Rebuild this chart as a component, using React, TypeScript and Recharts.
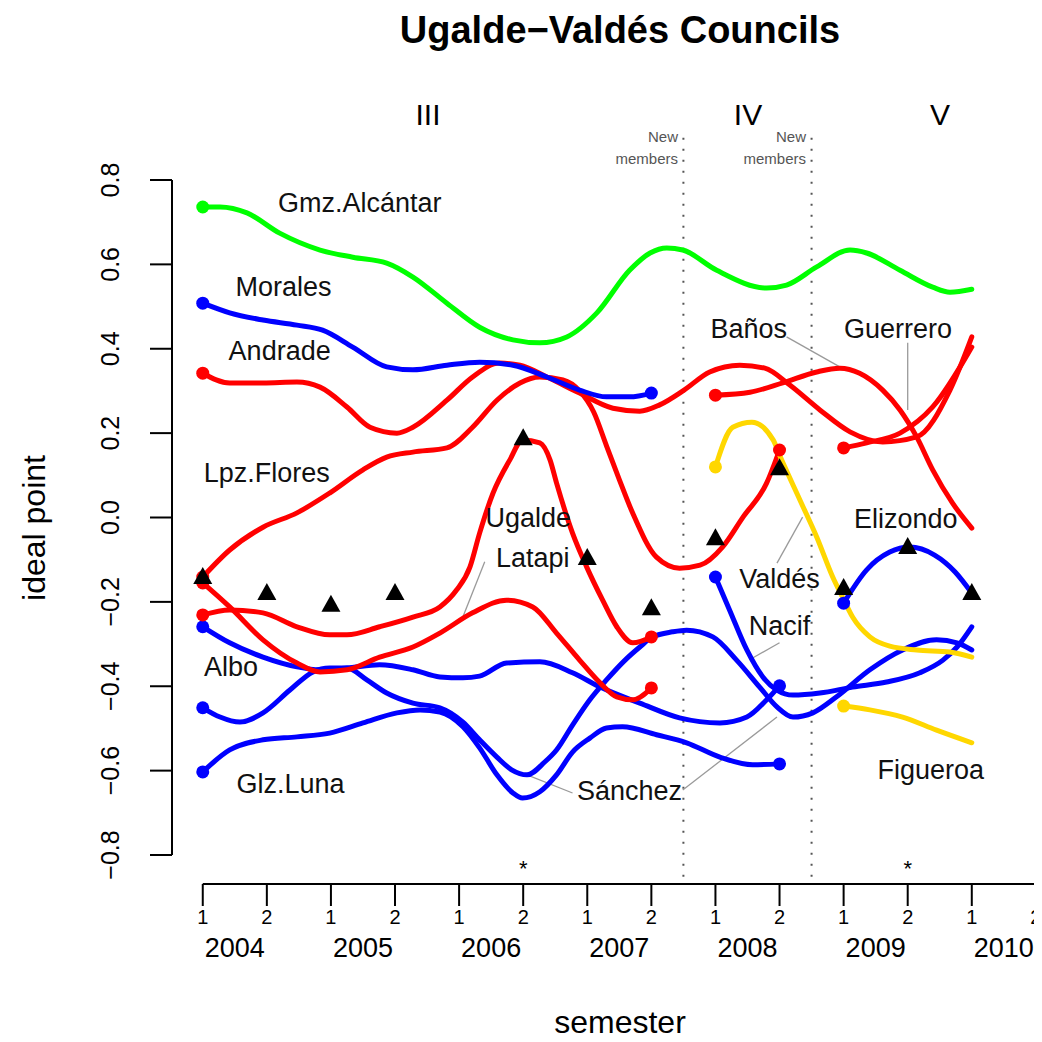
import React from 'react';
import { ComposedChart, Line, XAxis, YAxis, ReferenceLine, Scatter } from 'recharts';

type P = [number, number];

const RED = '#FF0000';
const BLUE = '#0000FF';
const GREEN = '#00FF00';
const GOLD = '#FFD700';
const FONT = '"Liberation Sans", Arial, Helvetica, sans-serif';

// x = semester index (0 = 2004-1, 1 = 2004-2, ... 13 = 2010-2), y = ideal point
const gmzAlcantar: P[] = [[0,0.736],[0.27,0.736],[0.69,0.722],[1.2,0.674],[1.83,0.634],[2.34,0.617],[2.87,0.603],[3.28,0.57],[3.81,0.508],[4.32,0.451],[4.84,0.421],[5.26,0.414],[5.68,0.428],[6.15,0.485],[6.66,0.586],[6.98,0.627],[7.24,0.639],[7.49,0.634],[8.02,0.586],[8.8,0.544],[9.11,0.551],[9.58,0.594],[10.1,0.634],[10.36,0.627],[10.88,0.586],[11.39,0.546],[11.66,0.534],[12,0.541]];
const morales: P[] = [[0,0.508],[0.42,0.485],[0.94,0.468],[1.47,0.456],[1.87,0.444],[2.34,0.404],[2.87,0.357],[3.28,0.35],[3.81,0.361],[4.32,0.368],[4.84,0.361],[5.37,0.333],[5.88,0.302],[6.3,0.286],[6.66,0.286],[7,0.295]];
const andrade: P[] = [[0,0.342],[0.42,0.319],[0.94,0.319],[1.47,0.321],[1.83,0.309],[2.25,0.262],[2.61,0.214],[3.03,0.2],[3.28,0.214],[3.81,0.278],[4.21,0.333],[4.63,0.366],[4.95,0.361],[5.37,0.333],[5.88,0.295],[6.4,0.259],[6.82,0.252],[7.13,0.267],[7.51,0.302],[7.91,0.345],[8.38,0.361],[8.77,0.354],[9.16,0.314],[9.63,0.255],[10.1,0.203],[10.61,0.179],[11.14,0.191],[11.66,0.302],[12,0.428]];
const lpzFlores: P[] = [[0,-0.141],[0.42,-0.077],[0.94,-0.023],[1.47,0.011],[1.98,0.058],[2.5,0.113],[2.87,0.143],[3.28,0.155],[3.81,0.165],[4.21,0.214],[4.59,0.278],[4.95,0.319],[5.26,0.333],[5.62,0.326],[5.88,0.3],[6.1,0.25],[6.3,0.17],[6.5,0.09],[6.71,0.01],[7.08,-0.094],[7.44,-0.12],[7.76,-0.113],[8.11,-0.07],[8.43,0.001],[8.8,0.082],[9,0.16]];
const ugalde: P[] = [[0,-0.231],[0.42,-0.219],[0.94,-0.226],[1.47,-0.259],[1.98,-0.278],[2.25,-0.278],[2.76,-0.259],[3.28,-0.236],[3.7,-0.212],[3.96,-0.172],[4.17,-0.117],[4.32,-0.037],[4.53,0.058],[4.79,0.136],[4.99,0.184],[5.26,0.177],[5.42,0.136],[5.52,0.082],[5.77,-0.037],[5.99,-0.117],[6.24,-0.196],[6.46,-0.259],[6.71,-0.297],[7,-0.283]];
const latapi: P[] = [[0,-0.155],[0.42,-0.212],[0.94,-0.29],[1.47,-0.345],[1.83,-0.366],[2.25,-0.361],[2.76,-0.331],[3.28,-0.307],[3.7,-0.274],[4.21,-0.226],[4.74,-0.196],[5.15,-0.212],[5.52,-0.274],[5.88,-0.338],[6.2,-0.392],[6.46,-0.425],[6.71,-0.432],[7,-0.404]];
const albo: P[] = [[0,-0.259],[0.42,-0.297],[0.94,-0.331],[1.47,-0.354],[1.83,-0.361],[2.25,-0.357],[2.76,-0.349],[3.28,-0.361],[3.7,-0.378],[4.06,-0.38],[4.32,-0.376],[4.74,-0.345],[5.26,-0.342],[5.77,-0.368],[6.2,-0.402],[6.82,-0.44],[7.44,-0.475],[8.07,-0.487],[8.49,-0.473],[8.8,-0.432],[9,-0.399]];
const sanchez: P[] = [[0,-0.451],[0.27,-0.473],[0.58,-0.485],[0.94,-0.463],[1.36,-0.409],[1.72,-0.366],[1.98,-0.357],[2.25,-0.357],[2.56,-0.385],[2.87,-0.416],[3.28,-0.44],[3.7,-0.451],[4.06,-0.485],[4.32,-0.527],[4.59,-0.568],[4.82,-0.598],[5.06,-0.61],[5.34,-0.579],[5.52,-0.551],[5.77,-0.492],[6.04,-0.432],[6.3,-0.385],[6.59,-0.338],[6.82,-0.307],[7.02,-0.283],[7.33,-0.271],[7.55,-0.267],[7.96,-0.283],[8.33,-0.338],[8.69,-0.402],[8.96,-0.449],[9.21,-0.473],[9.52,-0.463],[9.89,-0.425],[10.41,-0.361],[10.92,-0.314],[11.45,-0.29],[11.77,-0.297],[12,-0.314]];
const glzLuna: P[] = [[0,-0.603],[0.42,-0.551],[0.94,-0.527],[1.47,-0.52],[1.98,-0.511],[2.5,-0.487],[3.03,-0.463],[3.39,-0.456],[3.7,-0.461],[4.06,-0.496],[4.32,-0.546],[4.59,-0.61],[4.84,-0.653],[4.99,-0.665],[5.26,-0.65],[5.52,-0.61],[5.77,-0.556],[6.04,-0.523],[6.3,-0.499],[6.55,-0.496],[7.08,-0.515],[7.55,-0.534],[8.07,-0.568],[8.58,-0.586],[9,-0.584]];
const banos: P[] = [[8,0.29],[8.54,0.297],[9.05,0.319],[9.58,0.345],[9.94,0.354],[10.25,0.342],[10.61,0.302],[10.88,0.255],[11.14,0.191],[11.39,0.113],[11.7,0.034],[12,-0.025]];
const valdes: P[] = [[8,0.12],[8.27,0.214],[8.57,0.226],[8.9,0.184],[9,0.148],[9.32,0.041],[9.58,-0.046],[9.83,-0.141],[9.99,-0.191],[10.14,-0.236],[10.41,-0.283],[10.72,-0.305],[11.14,-0.314],[11.66,-0.319],[12,-0.331]];
const nacif: P[] = [[8,-0.141],[8.22,-0.219],[8.49,-0.314],[8.74,-0.378],[8.96,-0.409],[9.21,-0.421],[9.63,-0.416],[10.14,-0.402],[10.67,-0.39],[11.19,-0.368],[11.55,-0.338],[11.77,-0.307],[12,-0.259]];
const guerrero: P[] = [[10,0.165],[10.36,0.177],[10.88,0.2],[11.39,0.262],[12,0.404]];
const elizondo: P[] = [[10,-0.203],[10.36,-0.124],[10.72,-0.082],[11.03,-0.07],[11.42,-0.089],[11.74,-0.129],[12,-0.179]];
const figueroa: P[] = [[10,-0.447],[10.41,-0.456],[10.92,-0.473],[11.45,-0.504],[12,-0.534]];

// council president marks (triangles)
const triangleSemesters = [0, 1, 2, 3, 5, 6, 7, 8, 9, 10, 11, 12];
const triangleValues = [-0.141, -0.179, -0.207, -0.179, 0.188, -0.096, -0.215, -0.049, 0.117, -0.167, -0.07, -0.179];

const starSemesters = [5, 11];
const starLevel = -0.822;

const yTicks = [-0.8, -0.6, -0.4, -0.2, 0, 0.2, 0.4, 0.6, 0.8];
const semesterTicks = [0, 1, 2, 3, 4, 5, 6, 7, 8, 9, 10, 11, 12, 13];
const years = [2004, 2005, 2006, 2007, 2008, 2009, 2010];
const periodChanges = [7.5, 9.5];

const members = [
  { name: 'Glz.Luna', color: BLUE, pts: glzLuna },
  { name: 'Sánchez', color: BLUE, pts: sanchez },
  { name: 'Albo', color: BLUE, pts: albo },
  { name: 'Latapi', color: RED, pts: latapi },
  { name: 'Ugalde', color: RED, pts: ugalde },
  { name: 'Lpz.Flores', color: RED, pts: lpzFlores },
  { name: 'Andrade', color: RED, pts: andrade },
  { name: 'Morales', color: BLUE, pts: morales },
  { name: 'Gmz.Alcántar', color: GREEN, pts: gmzAlcantar },
  { name: 'Nacif', color: BLUE, pts: nacif },
  { name: 'Baños', color: RED, pts: banos },
  { name: 'Valdés', color: GOLD, pts: valdes },
  { name: 'Figueroa', color: GOLD, pts: figueroa },
  { name: 'Elizondo', color: BLUE, pts: elizondo },
  { name: 'Guerrero', color: RED, pts: guerrero },
];

// annotation placement (label centres, in data units)
const nameLabels = [
  { text: 'Gmz.Alcántar', x: 2.45, y: 0.748 },
  { text: 'Morales', x: 1.26, y: 0.549 },
  { text: 'Andrade', x: 1.2, y: 0.397 },
  { text: 'Lpz.Flores', x: 1.0, y: 0.108 },
  { text: 'Ugalde', x: 5.08, y: 0.001 },
  { text: 'Latapi', x: 5.15, y: -0.094 },
  { text: 'Albo', x: 0.44, y: -0.352 },
  { text: 'Glz.Luna', x: 1.37, y: -0.629 },
  { text: 'Sánchez', x: 6.66, y: -0.646 },
  { text: 'Baños', x: 8.52, y: 0.449 },
  { text: 'Guerrero', x: 10.85, y: 0.449 },
  { text: 'Elizondo', x: 10.97, y: -0.001 },
  { text: 'Valdés', x: 9.0, y: -0.143 },
  { text: 'Nacif', x: 9.0, y: -0.255 },
  { text: 'Figueroa', x: 11.36, y: -0.596 },
];
const leaders = [
  [4.4, -0.105, 4.04, -0.243],
  [5.77, -0.653, 5.06, -0.61],
  [7.49, -0.646, 8.96, -0.473],
  [9.11, 0.428, 9.94, 0.357],
  [11.0, 0.414, 11.0, 0.255],
  [9.36, 0.001, 8.96, -0.108],
  [9.0, -0.297, 8.58, -0.333],
];

const X_DOMAIN: [number, number] = [-0.48, 13.08];
const Y_DOMAIN: [number, number] = [-0.864, 0.864];

const toRows = (pts: P[]) => pts.map(([x, y]) => ({ x, y }));
const triangles = triangleSemesters.map((x, i) => ({ x, y: triangleValues[i] }));
const stars = starSemesters.map((x) => ({ x, y: starLevel }));
const xTicks = [...semesterTicks, ...years.map((_, i) => i * 2 + 0.5)];

const makeDot = (color: string, lastIndex: number, endsEarly: boolean) => (props: any) => {
  const { cx, cy, index } = props;
  if (index === 0 || (endsEarly && index === lastIndex)) {
    return <circle key={`d${index}`} cx={cx} cy={cy} r={6.5} fill={color} stroke="none" />;
  }
  return <g key={`d${index}`} />;
};

const TriangleShape = (props: any) => {
  const { cx, cy } = props;
  return <polygon points={`${cx},${cy - 10} ${cx - 9.5},${cy + 7} ${cx + 9.5},${cy + 7}`} fill="#000" />;
};

const StarShape = (props: any) => (
  <text x={props.cx} y={props.cy} dy="0.55em" textAnchor="middle" fontSize={22} fontFamily={FONT} fill="#000">*</text>
);

const NameShape = (props: any) => (
  <text x={props.cx} y={props.cy} dy="0.36em" textAnchor="middle" fontSize={27} fontFamily={FONT} fill="#111">
    {props.payload.text}
  </text>
);

const XTick = (props: any) => {
  const { x, y, payload } = props;
  const v = payload.value as number;
  if (Number.isInteger(v)) {
    return (
      <g>
        <line x1={x} x2={x} y1={y + 2} y2={y + 24} stroke="#000" strokeWidth={2} />
        <text x={x} y={y + 35} dy="0.36em" textAnchor="middle" fontSize={20} fontFamily={FONT} fill="#000">
          {v % 2 === 0 ? '1' : '2'}
        </text>
      </g>
    );
  }
  const year = years[Math.floor(v / 2)];
  return (
    <text x={x} y={y + 65} dy="0.36em" textAnchor="middle" fontSize={27} fontFamily={FONT} fill="#000">
      {year}
    </text>
  );
};

const YTick = (props: any) => {
  const { x, y, payload } = props;
  const v = payload.value as number;
  const label = v.toFixed(1).replace('-', '\u2212');
  const lx = x - 62;
  return (
    <g>
      <line x1={x - 22} x2={x} y1={y} y2={y} stroke="#000" strokeWidth={2} />
      <text x={lx} y={y} dy="0.36em" textAnchor="middle" fontSize={25} fontFamily={FONT} fill="#000" transform={`rotate(-90, ${lx}, ${y})`}>
        {label}
      </text>
    </g>
  );
};

function Abs(props: { x: number; y: number; size: number; children: React.ReactNode; bold?: boolean; rotate?: number; anchor?: 'middle' | 'end'; color?: string }) {
  const { x, y, size, children, bold, rotate, anchor = 'middle', color = '#000' } = props;
  const tx = anchor === 'middle' ? '-50%' : '-100%';
  return (
    <div
      style={{
        position: 'absolute',
        left: x,
        top: y,
        transform: `translate(${tx}, -50%)${rotate ? ` rotate(${rotate}deg)` : ''}`,
        fontSize: size,
        lineHeight: 1,
        fontWeight: bold ? 'bold' : 'normal',
        whiteSpace: 'nowrap',
        fontFamily: FONT,
        color,
      }}
    >
      {children}
    </div>
  );
}

export default function App() {
  return (
    <div style={{ position: 'relative', width: 1034, height: 1034, background: '#fff' }}>
      <ComposedChart width={1034} height={1034} margin={{ top: 145, right: 1, bottom: 60, left: 84 }}>
        <XAxis
          dataKey="x"
          type="number"
          domain={X_DOMAIN}
          allowDataOverflow
          ticks={xTicks}
          interval={0}
          tick={<XTick />}
          tickLine={false}
          axisLine={false}
          tickSize={0}
          tickMargin={0}
          height={100}
        />
        <YAxis
          type="number"
          domain={Y_DOMAIN}
          allowDataOverflow
          ticks={yTicks}
          interval={0}
          tick={<YTick />}
          tickLine={false}
          axisLine={false}
          tickSize={0}
          tickMargin={0}
          width={80}
        />
        <ReferenceLine segment={[{ x: X_DOMAIN[0], y: -0.8 }, { x: X_DOMAIN[0], y: 0.8 }]} stroke="#000" strokeWidth={2} ifOverflow="visible" />
        <ReferenceLine segment={[{ x: 0, y: -0.869 }, { x: 13, y: -0.869 }]} stroke="#000" strokeWidth={2} ifOverflow="visible" />
        {periodChanges.map((p) => (
          <ReferenceLine key={`p${p}`} segment={[{ x: p, y: 0.9 }, { x: p, y: -0.855 }]} stroke="#555" strokeWidth={2} strokeDasharray="2 9" ifOverflow="visible" />
        ))}
        {leaders.map((l, i) => (
          <ReferenceLine key={`l${i}`} segment={[{ x: l[0], y: l[1] }, { x: l[2], y: l[3] }]} stroke="#9a9a9a" strokeWidth={1.3} ifOverflow="visible" />
        ))}
        {members.map((m) => (
          <Line
            key={m.name}
            data={toRows(m.pts)}
            dataKey="y"
            type="monotone"
            stroke={m.color}
            strokeWidth={5}
            dot={makeDot(m.color, m.pts.length - 1, m.pts[m.pts.length - 1][0] < 12)}
            activeDot={false}
            isAnimationActive={false}
            strokeLinecap="round"
            strokeLinejoin="round"
          />
        ))}
        <Scatter data={triangles} dataKey="y" shape={TriangleShape} isAnimationActive={false} />
        <Scatter data={stars} dataKey="y" shape={StarShape} isAnimationActive={false} />
        <Scatter data={nameLabels} dataKey="y" shape={NameShape} isAnimationActive={false} />
      </ComposedChart>

      <Abs x={612} y={22} size={38} bold>Ugalde−Valdés Councils</Abs>
      <Abs x={612} y={1014} size={32}>semester</Abs>
      <Abs x={26} y={520} size={32} rotate={-90}>ideal point</Abs>
      <Abs x={420} y={107} size={30}>III</Abs>
      <Abs x={740} y={107} size={30}>IV</Abs>
      <Abs x={932} y={107} size={30}>V</Abs>
      <Abs x={670} y={128} size={15} anchor="end" color="#555">New</Abs>
      <Abs x={670} y={150} size={15} anchor="end" color="#555">members</Abs>
      <Abs x={798} y={128} size={15} anchor="end" color="#555">New</Abs>
      <Abs x={798} y={150} size={15} anchor="end" color="#555">members</Abs>
    </div>
  );
}
